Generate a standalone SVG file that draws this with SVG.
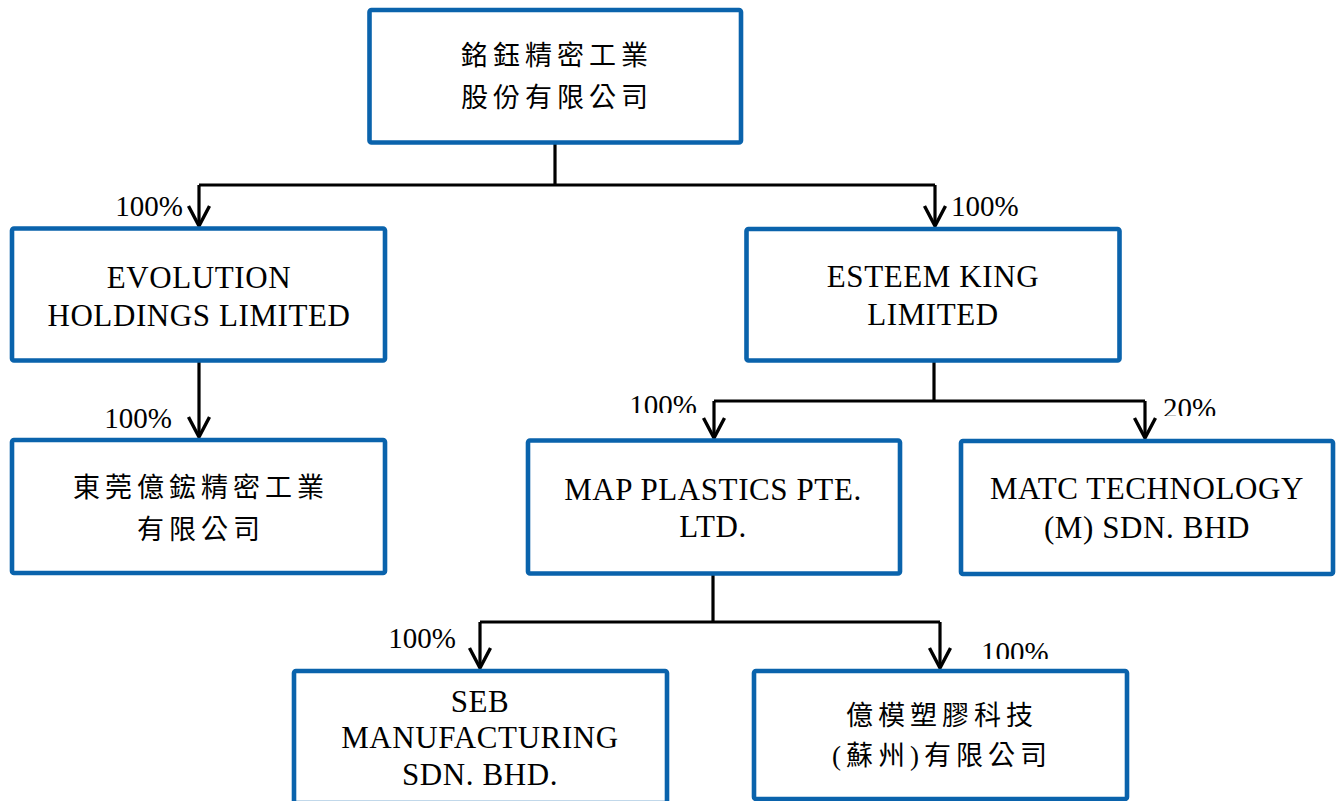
<svg xmlns="http://www.w3.org/2000/svg" width="1340" height="801" viewBox="0 0 1340 801">
<style>
.box{fill:#fff;stroke:#0A63AC;stroke-width:4.6}
.en{font-family:"Liberation Serif","Times New Roman",serif;font-size:31px;letter-spacing:0.6px;fill:#000;text-anchor:middle}
.cjk{font-family:"Liberation Serif","Noto Sans CJK TC","Noto Sans CJK SC",serif;font-size:27px;letter-spacing:5px;fill:#000;text-anchor:middle}
.pct{font-family:"Liberation Serif","Times New Roman",serif;font-size:29px;fill:#000}
.ln{fill:none;stroke:#000;stroke-width:3.2}
</style>
<defs>
<marker id="arr" markerUnits="userSpaceOnUse" viewBox="-24 -14 28 28" refX="0" refY="0" markerWidth="28" markerHeight="28" orient="auto" overflow="visible">
<path d="M-20,-10.5 L0,0 L-20,10.5" fill="none" stroke="#000" stroke-width="3.4" stroke-linejoin="round"/>
</marker>
<clipPath id="c1"><rect x="600" y="380" width="120" height="33"/></clipPath>
<clipPath id="c2"><rect x="1150" y="380" width="100" height="36"/></clipPath>
<clipPath id="c3"><rect x="960" y="620" width="120" height="39"/></clipPath>
</defs>
<rect width="1340" height="801" fill="#fff"/>
<g id="connectors">
<polyline class="ln" points="555,144 555,185"/>
<polyline class="ln" points="199,185 935,185"/>
<polyline class="ln" points="199,185 199,226" marker-end="url(#arr)"/>
<polyline class="ln" points="935,185 935,226" marker-end="url(#arr)"/>
<polyline class="ln" points="199,362 199,437" marker-end="url(#arr)"/>
<polyline class="ln" points="934,362 934,401"/>
<polyline class="ln" points="714,401 1145,401"/>
<polyline class="ln" points="714,401 714,438" marker-end="url(#arr)"/>
<polyline class="ln" points="1145,401 1145,438" marker-end="url(#arr)"/>
<polyline class="ln" points="713,575 713,622"/>
<polyline class="ln" points="480,622 940,622"/>
<polyline class="ln" points="480,622 480,668" marker-end="url(#arr)"/>
<polyline class="ln" points="940,622 940,668" marker-end="url(#arr)"/>
<text class="pct" x="183" y="216" text-anchor="end">100%</text>
<text class="pct" x="951" y="216">100%</text>
<text class="pct" x="172" y="428" text-anchor="end">100%</text>
<text class="pct" x="697" y="415" text-anchor="end" clip-path="url(#c1)">100%</text>
<text class="pct" x="1163" y="418" clip-path="url(#c2)">20%</text>
<text class="pct" x="456" y="648" text-anchor="end">100%</text>
<text class="pct" x="981" y="662" clip-path="url(#c3)">100%</text>
</g>
<g id="n-parent">
<rect class="box" x="369.5" y="10" width="371.5" height="132.5" rx="2"/>
<text class="cjk" x="557" y="65">銘鈺精密工業</text>
<text class="cjk" x="557" y="107">股份有限公司</text>
</g>
<g id="n-evolution">
<rect class="box" x="12" y="228.5" width="373" height="132" rx="2"/>
<text class="en" x="199" y="288">EVOLUTION</text>
<text class="en" x="199" y="326">HOLDINGS LIMITED</text>
</g>
<g id="n-esteem">
<rect class="box" x="746.5" y="229" width="373" height="131.5" rx="2"/>
<text class="en" x="933" y="287">ESTEEM KING</text>
<text class="en" x="933" y="325">LIMITED</text>
</g>
<g id="n-dongguan">
<rect class="box" x="12" y="440" width="373" height="133" rx="2"/>
<text class="cjk" x="201" y="497">東莞億鋐精密工業</text>
<text class="cjk" x="201" y="539">有限公司</text>
</g>
<g id="n-map">
<rect class="box" x="528" y="440.5" width="372" height="133" rx="2"/>
<text class="en" x="713" y="500">MAP PLASTICS PTE.</text>
<text class="en" x="713" y="537">LTD.</text>
</g>
<g id="n-matc">
<rect class="box" x="961" y="441" width="372" height="133" rx="2"/>
<text class="en" x="1147" y="499">MATC TECHNOLOGY</text>
<text class="en" x="1147" y="538">(M) SDN. BHD</text>
</g>
<g id="n-seb">
<rect class="box" x="294" y="671" width="373" height="132" rx="2"/>
<text class="en" x="480" y="712">SEB</text>
<text class="en" x="480" y="748">MANUFACTURING</text>
<text class="en" x="480" y="785">SDN. BHD.</text>
</g>
<g id="n-yimo">
<rect class="box" x="754" y="671" width="373" height="128" rx="2"/>
<text class="cjk" x="942" y="725">億模塑膠科技</text>
<text class="cjk" x="942" y="765">(蘇州)有限公司</text>
</g>
</svg>
